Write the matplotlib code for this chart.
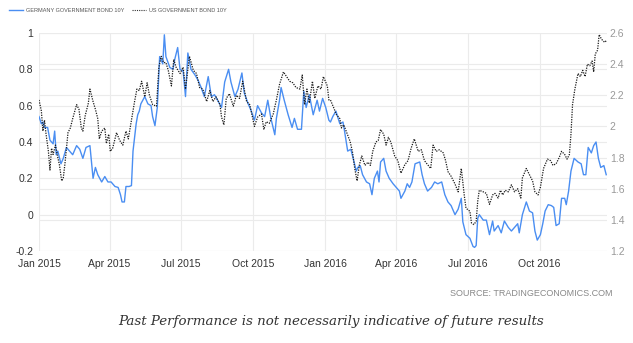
import matplotlib
matplotlib.use("Agg")
import matplotlib.pyplot as plt
import matplotlib.dates as mdates
import pandas as pd
from matplotlib.lines import Line2D
from matplotlib.ticker import FuncFormatter

plt.rcParams['font.family'] = ['Liberation Sans', 'DejaVu Sans']

# Germany 10Y (left axis)
de_dates = [
    "2015-01-01", "2015-01-04", "2015-01-06", "2015-01-08", "2015-01-12", "2015-01-15", "2015-01-19", "2015-01-21", "2015-01-23", "2015-01-25",
    "2015-01-29", "2015-02-01", "2015-02-05", "2015-02-09", "2015-02-13", "2015-02-18", "2015-02-22", "2015-02-26", "2015-03-02", "2015-03-07",
    "2015-03-11", "2015-03-14", "2015-03-17", "2015-03-22", "2015-03-26", "2015-03-30", "2015-04-03", "2015-04-08", "2015-04-12", "2015-04-15",
    "2015-04-17", "2015-04-20", "2015-04-22", "2015-04-26", "2015-04-29", "2015-05-01", "2015-05-05", "2015-05-07", "2015-05-09", "2015-05-11",
    "2015-05-16", "2015-05-20", "2015-05-24", "2015-05-26", "2015-05-29", "2015-06-01", "2015-06-04", "2015-06-08", "2015-06-10", "2015-06-12",
    "2015-06-17", "2015-06-21", "2015-06-23", "2015-06-27", "2015-06-30", "2015-07-04",
    "2015-07-07", "2015-07-10", "2015-07-14", "2015-07-19", "2015-07-23", "2015-07-27", "2015-07-31", "2015-08-05", "2015-08-09", "2015-08-13",
    "2015-08-17", "2015-08-22", "2015-08-26", "2015-08-31", "2015-09-03", "2015-09-08", "2015-09-12", "2015-09-17", "2015-09-20", "2015-09-25",
    "2015-09-29", "2015-10-03", "2015-10-07", "2015-10-12", "2015-10-16", "2015-10-20", "2015-10-24", "2015-10-29", "2015-10-31", "2015-11-04",
    "2015-11-06", "2015-11-10", "2015-11-15", "2015-11-20", "2015-11-23", "2015-11-27", "2015-12-02", "2015-12-05", "2015-12-08", "2015-12-12",
    "2015-12-17", "2015-12-22", "2015-12-25", "2015-12-29", "2016-01-02", "2016-01-06",
    "2016-01-08", "2016-01-11", "2016-01-15", "2016-01-20", "2016-01-24", "2016-01-26", "2016-01-30", "2016-02-03", "2016-02-06", "2016-02-10",
    "2016-02-12", "2016-02-15", "2016-02-18", "2016-02-23", "2016-02-27", "2016-03-01", "2016-03-04", "2016-03-08", "2016-03-10", "2016-03-12",
    "2016-03-16", "2016-03-19", "2016-03-23", "2016-03-28", "2016-04-01", "2016-04-05", "2016-04-07", "2016-04-12", "2016-04-15", "2016-04-18",
    "2016-04-21", "2016-04-25", "2016-05-01", "2016-05-04", "2016-05-07", "2016-05-11", "2016-05-16", "2016-05-20", "2016-05-24", "2016-05-29",
    "2016-06-02", "2016-06-06", "2016-06-10", "2016-06-15", "2016-06-19", "2016-06-23", "2016-06-25", "2016-06-29", "2016-07-04", "2016-07-08",
    "2016-07-10", "2016-07-12", "2016-07-14", "2016-07-16", "2016-07-21", "2016-07-25", "2016-07-29", "2016-08-02", "2016-08-04", "2016-08-09",
    "2016-08-13", "2016-08-17", "2016-08-22", "2016-08-26", "2016-08-30", "2016-09-03", "2016-09-05", "2016-09-09", "2016-09-14", "2016-09-18",
    "2016-09-22", "2016-09-25", "2016-09-28", "2016-10-02", "2016-10-05", "2016-10-08", "2016-10-12", "2016-10-16", "2016-10-19", "2016-10-22",
    "2016-10-26", "2016-10-29", "2016-11-02", "2016-11-04", "2016-11-07", "2016-11-10", "2016-11-14", "2016-11-19", "2016-11-23", "2016-11-26",
    "2016-11-29", "2016-12-02", "2016-12-06", "2016-12-09", "2016-12-12", "2016-12-15", "2016-12-18", "2016-12-22", "2016-12-25",
]
de_yield = [
    0.54, 0.50, 0.51, 0.48, 0.48, 0.41, 0.39, 0.46, 0.33, 0.35,
    0.28, 0.31, 0.37, 0.35, 0.33, 0.38, 0.36, 0.31, 0.37, 0.38,
    0.20, 0.26, 0.22, 0.18, 0.21, 0.18, 0.18, 0.155, 0.15, 0.11,
    0.07, 0.07, 0.155, 0.155, 0.16, 0.35, 0.50, 0.55, 0.57, 0.61,
    0.65, 0.61, 0.60, 0.54, 0.49, 0.59, 0.87, 0.83, 0.99, 0.87,
    0.81, 0.80, 0.85, 0.92, 0.80, 0.79,
    0.65, 0.89, 0.80, 0.77, 0.74, 0.70, 0.65, 0.76, 0.65, 0.66,
    0.63, 0.59, 0.73, 0.80, 0.73, 0.65, 0.69, 0.78, 0.67, 0.61,
    0.57, 0.52, 0.60, 0.56, 0.54, 0.63, 0.53, 0.44, 0.53, 0.63,
    0.70, 0.63, 0.55, 0.48, 0.53, 0.47, 0.47, 0.68, 0.59, 0.66,
    0.55, 0.63, 0.57, 0.64, 0.59, 0.52,
    0.51, 0.54, 0.57, 0.50, 0.51, 0.46, 0.35, 0.36, 0.31, 0.24,
    0.26, 0.27, 0.22, 0.18, 0.17, 0.11, 0.20, 0.24, 0.18, 0.29,
    0.31, 0.24, 0.20, 0.17, 0.15, 0.13, 0.09, 0.13, 0.17, 0.15,
    0.18, 0.28, 0.29, 0.22, 0.17, 0.13, 0.15, 0.18, 0.17, 0.18,
    0.11, 0.07, 0.05, 0.00, 0.03, 0.09, -0.04, -0.11, -0.13, -0.175,
    -0.18, -0.17, -0.02, 0.00, -0.03, -0.03, -0.11, -0.035, -0.09, -0.06,
    -0.10, -0.035, -0.07, -0.09, -0.07, -0.05, -0.10, 0.00, 0.07, 0.02,
    0.01, -0.09, -0.14, -0.11, -0.05, 0.02, 0.055, 0.05, 0.04, -0.06,
    -0.05, 0.09, 0.09, 0.055, 0.13, 0.24, 0.31, 0.29, 0.28, 0.22,
    0.22, 0.37, 0.34, 0.38, 0.40, 0.31, 0.26, 0.27, 0.22,
]

# US 10Y (right axis)
us_dates = [
    "2015-01-01", "2015-01-04", "2015-01-06", "2015-01-08", "2015-01-10", "2015-01-13", "2015-01-15", "2015-01-17", "2015-01-19", "2015-01-22",
    "2015-01-25", "2015-01-27", "2015-01-30", "2015-02-01", "2015-02-03", "2015-02-05", "2015-02-07", "2015-02-10", "2015-02-13", "2015-02-18",
    "2015-02-21", "2015-02-24", "2015-02-26", "2015-03-01", "2015-03-05", "2015-03-07", "2015-03-11", "2015-03-14", "2015-03-17", "2015-03-19",
    "2015-03-22", "2015-03-26", "2015-03-28", "2015-03-31", "2015-04-02", "2015-04-05", "2015-04-10", "2015-04-14", "2015-04-18", "2015-04-22",
    "2015-04-25", "2015-04-29", "2015-05-03", "2015-05-06", "2015-05-09", "2015-05-12", "2015-05-16", "2015-05-19", "2015-05-22", "2015-05-26",
    "2015-05-31", "2015-06-03", "2015-06-06", "2015-06-09", "2015-06-12", "2015-06-15", "2015-06-19", "2015-06-22", "2015-06-25", "2015-06-30",
    "2015-07-04",
    "2015-07-07", "2015-07-12", "2015-07-17", "2015-07-21", "2015-07-25", "2015-07-29", "2015-08-03", "2015-08-07", "2015-08-11", "2015-08-15",
    "2015-08-20", "2015-08-22", "2015-08-25", "2015-08-28", "2015-09-01", "2015-09-06", "2015-09-10", "2015-09-14", "2015-09-18", "2015-09-23",
    "2015-09-27", "2015-09-30", "2015-10-03", "2015-10-07", "2015-10-12", "2015-10-15", "2015-10-18", "2015-10-22", "2015-10-27", "2015-10-31",
    "2015-11-04", "2015-11-09", "2015-11-13", "2015-11-17", "2015-11-21", "2015-11-25", "2015-11-30", "2015-12-03", "2015-12-06", "2015-12-09",
    "2015-12-12", "2015-12-16", "2015-12-19", "2015-12-23", "2015-12-27", "2015-12-30", "2016-01-04", "2016-01-06",
    "2016-01-08", "2016-01-13", "2016-01-15", "2016-01-20", "2016-01-22", "2016-01-25", "2016-01-28", "2016-02-02", "2016-02-05", "2016-02-08",
    "2016-02-11", "2016-02-14", "2016-02-17", "2016-02-21", "2016-02-25", "2016-02-28", "2016-03-02", "2016-03-06", "2016-03-09", "2016-03-12",
    "2016-03-16", "2016-03-19", "2016-03-22", "2016-03-25", "2016-03-30", "2016-04-03", "2016-04-07", "2016-04-12", "2016-04-16", "2016-04-20",
    "2016-04-24", "2016-04-29", "2016-05-03", "2016-05-07", "2016-05-11", "2016-05-15", "2016-05-18", "2016-05-22", "2016-05-26", "2016-05-31",
    "2016-06-03", "2016-06-06", "2016-06-10", "2016-06-15", "2016-06-19", "2016-06-23", "2016-06-27", "2016-06-29", "2016-07-04", "2016-07-06",
    "2016-07-09",
    "2016-07-12", "2016-07-14", "2016-07-16", "2016-07-21", "2016-07-25", "2016-07-29", "2016-08-02", "2016-08-05", "2016-08-09", "2016-08-12",
    "2016-08-15", "2016-08-18", "2016-08-22", "2016-08-26", "2016-08-30", "2016-09-03", "2016-09-07", "2016-09-09", "2016-09-14", "2016-09-18",
    "2016-09-22", "2016-09-25", "2016-09-29", "2016-10-02", "2016-10-06", "2016-10-11", "2016-10-15", "2016-10-18", "2016-10-22", "2016-10-26",
    "2016-10-29", "2016-11-02", "2016-11-05", "2016-11-08", "2016-11-10", "2016-11-12", "2016-11-15", "2016-11-19", "2016-11-22", "2016-11-25",
    "2016-11-28", "2016-12-01", "2016-12-04", "2016-12-07", "2016-12-09", "2016-12-11", "2016-12-14", "2016-12-16", "2016-12-19", "2016-12-23",
    "2016-12-25",
]
us_yield = [
    2.17, 2.10, 1.97, 2.04, 1.95, 1.84, 1.72, 1.86, 1.82, 1.88,
    1.80, 1.755, 1.65, 1.67, 1.755, 1.86, 1.96, 1.99, 2.05, 2.14,
    2.11, 1.99, 1.97, 2.07, 2.15, 2.24, 2.16, 2.11, 2.05, 1.92,
    1.97, 1.99, 1.89, 1.95, 1.84, 1.86, 1.96, 1.91, 1.88, 1.97,
    1.92, 2.04, 2.16, 2.24, 2.23, 2.29, 2.19, 2.28, 2.20, 2.14,
    2.13, 2.38, 2.45, 2.41, 2.41, 2.36, 2.26, 2.43, 2.38, 2.34,
    2.38,
    2.24, 2.45, 2.36, 2.34, 2.25, 2.24, 2.16, 2.23, 2.16, 2.19,
    2.14, 2.06, 2.01, 2.18, 2.21, 2.13, 2.20, 2.18, 2.29, 2.16,
    2.14, 2.07, 2.00, 2.06, 2.08, 1.98, 2.03, 2.02, 2.08, 2.17,
    2.27, 2.35, 2.32, 2.29, 2.28, 2.25, 2.24, 2.33, 2.14, 2.24,
    2.15, 2.29, 2.18, 2.26, 2.24, 2.32, 2.26, 2.17,
    2.17, 2.11, 2.08, 2.05, 1.99, 2.01, 1.97, 1.905, 1.84, 1.73,
    1.65, 1.755, 1.81, 1.75, 1.77, 1.75, 1.84, 1.90, 1.91, 1.98,
    1.95, 1.88, 1.93, 1.90, 1.81, 1.78, 1.70, 1.755, 1.78, 1.86,
    1.92, 1.84, 1.85, 1.78, 1.755, 1.73, 1.88, 1.84, 1.85, 1.83,
    1.78, 1.71, 1.68, 1.63, 1.58, 1.73, 1.55, 1.475, 1.455, 1.38,
    1.37,
    1.39, 1.52, 1.59, 1.58, 1.57, 1.50, 1.56, 1.57, 1.54, 1.59,
    1.56, 1.59, 1.58, 1.625, 1.58, 1.60, 1.54, 1.67, 1.73, 1.69,
    1.65, 1.58, 1.56, 1.61, 1.73, 1.79, 1.78, 1.75, 1.76, 1.80,
    1.84, 1.82, 1.79, 1.82, 1.95, 2.14, 2.24, 2.34, 2.32, 2.36,
    2.32, 2.40, 2.39, 2.42, 2.35, 2.465, 2.49, 2.59, 2.56, 2.54,
    2.55,
]

left_ticks = [-0.2, 0, 0.2, 0.4, 0.6, 0.8, 1.0]
right_ticks = [1.2, 1.4, 1.6, 1.8, 2.0, 2.2, 2.4, 2.6]
labels = ["GERMANY GOVERNMENT BOND 10Y", "US GOVERNMENT BOND 10Y"]

blue = '#4a8ef2'
grid_c = '#ebebeb'

fig = plt.figure(figsize=(6.33, 3.43), dpi=100)
ax = fig.add_axes([39 / 633, 1 - 251 / 343, (607 - 39) / 633, (251 - 33) / 343])
ax2 = ax.twinx()

de_d = pd.to_datetime(de_dates)
us_d = pd.to_datetime(us_dates)

ax.plot(de_d, de_yield, color=blue, lw=1.0)
ax2.plot(us_d, us_yield, color='#1a1a1a', lw=0.9, ls=(0, (1, 1)))

ax.set_xlim(pd.Timestamp('2015-01-01'), pd.Timestamp('2016-12-26'))
ax.set_ylim(-0.2, 1.0)
ax2.set_ylim(1.2, 2.6)
ax.set_yticks(left_ticks)
ax2.set_yticks(right_ticks)

fmt = FuncFormatter(lambda v, p: '{:g}'.format(round(v, 2)))
ax.yaxis.set_major_formatter(fmt)
ax2.yaxis.set_major_formatter(fmt)

ax.xaxis.set_major_locator(mdates.MonthLocator(bymonth=[1, 4, 7, 10]))
ax.xaxis.set_major_formatter(mdates.DateFormatter('%b %Y'))

# grid lines of both scales drawn on the lower axes so lines stay on top
ax.grid(True, color=grid_c, lw=0.8)
ax.set_axisbelow(True)
for t in right_ticks:
    y = ax.transData.inverted().transform(ax2.transData.transform((0, t)))[1]
    ax.axhline(y, color=grid_c, lw=0.8, zorder=0)

for a in (ax, ax2):
    for s in a.spines.values():
        s.set_visible(False)
ax.tick_params(axis='both', length=0, labelsize=7.5, colors='#333333')
ax.tick_params(axis='y', pad=4)
ax.tick_params(axis='x', pad=6)
ax2.tick_params(axis='y', length=0, labelsize=7.5, colors='#999999', pad=2)

handles = [Line2D([], [], color=blue, lw=1.0),
           Line2D([], [], color='#333333', lw=0.8, ls=(0, (1, 1)))]
fig.legend(handles, labels, loc='upper left', bbox_to_anchor=(0.006, 0.99),
           ncol=2, frameon=False, fontsize=4.0, handlelength=2.5,
           handletextpad=0.6, columnspacing=1.4, labelcolor='#555555')

fig.text(613 / 633, 1 - 293 / 343, 'SOURCE: TRADINGECONOMICS.COM', ha='right',
         va='center', fontsize=6.5, color='#888888')
fig.text(331 / 633, 1 - 321 / 343, 'Past Performance is not necessarily indicative of future results',
         ha='center', va='center', fontsize=9.6, style='italic',
         family='DejaVu Serif', color='#333333')

fig.savefig('out.png', dpi=100)
